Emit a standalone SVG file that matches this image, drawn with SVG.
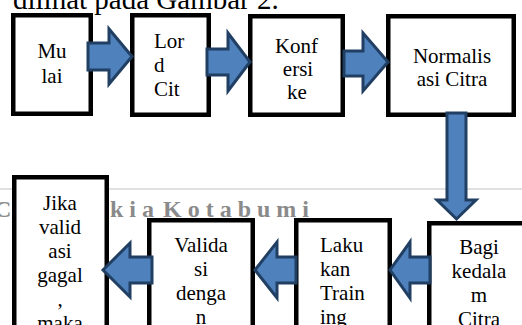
<svg xmlns="http://www.w3.org/2000/svg" width="522" height="325" viewBox="0 0 522 325">
<style>
.box{fill:#fff;stroke:#000;stroke-width:4.5}
.t{font-family:"Liberation Serif","Times New Roman",serif;font-size:21px;fill:#000}
.c{text-anchor:middle}
.arr{fill:#4f81bd;stroke:#213f63;stroke-width:3;stroke-linejoin:miter}
.wm{font-family:"Liberation Serif","Times New Roman",serif;font-size:24px;font-weight:bold;fill:#8a8a8a;letter-spacing:6px}
</style>
<rect width="522" height="325" fill="#fff"/>
<text class="t" x="13" y="9" style="font-size:29px">dilihat pada Gambar 2.</text>
<line x1="0" y1="189" x2="522" y2="189" stroke="#d6d6d6" stroke-width="1.5"/>
<text class="wm" x="-6" y="217">C</text>
<text class="wm" x="110" y="217">kia</text>
<text class="wm" x="163" y="217">Kotabumi</text>
<g id="n1"><rect class="box" x="13.25" y="15.25" width="77.5" height="98.5"/><text class="t c" x="52" y="58">Mu</text><text class="t c" x="52" y="83">lai</text></g>
<g id="n2"><rect class="box" x="132.25" y="15.25" width="76.5" height="99.5"/><text class="t" x="154" y="48">Lor</text><text class="t" x="154" y="72">d</text><text class="t" x="154" y="96">Cit</text></g>
<g id="n3"><rect class="box" x="250.25" y="16.25" width="92.5" height="98.5"/><text class="t c" x="296.5" y="53">Konf</text><text class="t c" x="298" y="76">ersi</text><text class="t c" x="297" y="99">ke</text></g>
<g id="n4"><rect class="box" x="388.25" y="16.25" width="125.5" height="98.5"/><text class="t c" x="452" y="63">Normalis</text><text class="t c" x="452" y="86">asi Citra</text></g>
<g id="n5"><rect class="box" x="14.25" y="177.25" width="92.5" height="170"/><text class="t c" x="60" y="210">Jika</text><text class="t c" x="60" y="234">valid</text><text class="t c" x="60" y="258">asi</text><text class="t c" x="60" y="282">gagal</text><text class="t c" x="60" y="306">,</text><text class="t c" x="60" y="330">maka</text></g>
<g id="n6"><rect class="box" x="149.25" y="220.25" width="103.5" height="130"/><text class="t c" x="201" y="252">Valida</text><text class="t c" x="201" y="276">si</text><text class="t c" x="201" y="300">denga</text><text class="t c" x="201" y="324">n</text></g>
<g id="n7"><rect class="box" x="296.25" y="220.25" width="93.5" height="130"/><text class="t" x="320" y="252">Laku</text><text class="t" x="320" y="276">kan</text><text class="t" x="320" y="300">Train</text><text class="t" x="320" y="324">ing</text></g>
<g id="n8"><rect class="box" x="429.25" y="223.25" width="97.5" height="130"/><text class="t c" x="479" y="254">Bagi</text><text class="t c" x="479" y="278">kedala</text><text class="t c" x="479" y="302">m</text><text class="t c" x="479" y="326">Citra</text></g>
<g id="connectors">
<polygon class="arr" points="88,43 109,43 109,29 132,56.5 109,84 109,70 88,70"/>
<polygon class="arr" points="207,49 228,49 228,33 250,62 228,91 228,75 207,75"/>
<polygon class="arr" points="344,51 363,51 363,33 388,62 363,91 363,76 344,76"/>
<polygon class="arr" points="447,113 466,113 466,200 476,200 456.5,219 437,200 447,200"/>
<polygon class="arr" points="430,257 410,257 410,242 390,270 410,298 410,283 430,283"/>
<polygon class="arr" points="296,257 277,257 277,242 255,270 277,298 277,283 296,283"/>
<polygon class="arr" points="152,257 130,257 130,243 103,270 130,297 130,283 152,283"/>
</g>
</svg>
